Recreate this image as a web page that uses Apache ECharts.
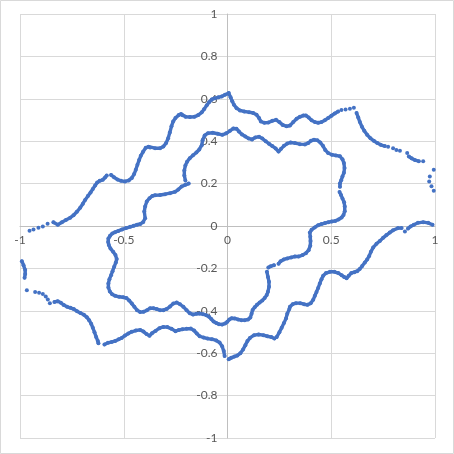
<!DOCTYPE html>
<html>
<head>
<meta charset="utf-8">
<script src="https://cdn.jsdelivr.net/npm/echarts@6/dist/echarts.min.js"></script>
<style>
html,body{margin:0;padding:0;background:#fff;}
#chart{width:454px;height:454px;}
</style>
</head>
<body>
<div id="chart"></div>
<script>
// Axis ticks
const xTicks = [-1, -0.5, 0, 0.5, 1];
const yTicks = [-1, -0.8, -0.6, -0.4, -0.2, 0, 0.2, 0.4, 0.6, 0.8, 1];

// Outer closed curve (null = visible gap)
const outerCurve = [
[-0.954,-0.022],null,[-0.935,-0.017],null,[-0.911,-0.008],null,[-0.890,-0.002],null,[-0.867,0.011],null,
[-0.839,0.018],[-0.818,0.006],[-0.798,0.018],[-0.779,0.028],[-0.758,0.039],[-0.742,0.051],[-0.726,0.067],[-0.710,0.086],[-0.697,0.105],[-0.686,0.123],[-0.673,0.141],[-0.660,0.158],[-0.649,0.175],[-0.638,0.191],[-0.628,0.205],[-0.616,0.213],[-0.601,0.218],[-0.590,0.229],[-0.582,0.238],null,
[-0.561,0.241],[-0.547,0.230],[-0.530,0.219],[-0.513,0.213],[-0.494,0.210],[-0.476,0.215],[-0.461,0.227],[-0.450,0.245],[-0.442,0.265],[-0.434,0.289],[-0.426,0.311],[-0.418,0.331],[-0.407,0.350],[-0.394,0.369],[-0.381,0.374],[-0.373,0.370],[-0.349,0.367],[-0.325,0.367],[-0.309,0.375],[-0.296,0.391],[-0.286,0.414],[-0.278,0.441],[-0.270,0.470],[-0.262,0.493],[-0.251,0.509],[-0.235,0.523],[-0.224,0.528],[-0.217,0.522],[-0.202,0.515],[-0.181,0.514],[-0.160,0.515],[-0.141,0.523],[-0.124,0.536],[-0.113,0.551],[-0.100,0.569],[-0.089,0.584],[-0.076,0.597],[-0.060,0.603],[-0.044,0.607],[-0.028,0.611],[-0.012,0.619],[0.006,0.627],[0.015,0.607],[0.023,0.588],[0.031,0.572],[0.044,0.556],[0.060,0.545],[0.081,0.540],[0.104,0.537],[0.124,0.533],[0.140,0.525],[0.152,0.509],[0.161,0.493],[0.177,0.487],[0.197,0.488],[0.216,0.496],[0.234,0.501],[0.250,0.490],[0.266,0.477],[0.285,0.470],[0.301,0.474],[0.317,0.490],[0.333,0.506],[0.349,0.515],[0.365,0.521],[0.378,0.521],[0.391,0.512],[0.405,0.499],[0.421,0.490],[0.437,0.487],[0.453,0.490],[0.469,0.499],[0.485,0.509],[0.501,0.520],[0.517,0.531],[0.533,0.540],null,
[0.549,0.547],null,[0.569,0.550],null,[0.590,0.553],null,[0.609,0.558],null,
[0.622,0.533],[0.630,0.512],[0.638,0.490],[0.648,0.468],[0.659,0.449],[0.673,0.430],[0.689,0.414],[0.705,0.402],[0.722,0.391],[0.738,0.383],[0.758,0.377],null,
[0.774,0.374],null,[0.798,0.367],null,[0.814,0.358],null,[0.831,0.355],null,[0.866,0.344],null,
[0.874,0.328],[0.887,0.319],[0.903,0.311],[0.922,0.306],null,[0.943,0.305],null,
[0.994,0.265],null,[0.975,0.234],null,[0.972,0.210],null,[0.983,0.187],null,[0.994,0.166],null,[1.002,0.150],null,
[1.004,-0.004],null,
[0.988,0.006],[0.967,0.015],[0.943,0.018],[0.918,0.015],[0.898,0.006],[0.882,-0.002],[0.870,-0.012],null,[0.855,-0.026],null,
[0.839,-0.010],[0.822,-0.010],[0.798,-0.020],[0.782,-0.031],[0.766,-0.043],[0.750,-0.056],[0.734,-0.071],[0.718,-0.084],[0.702,-0.101],[0.691,-0.122],[0.683,-0.141],[0.673,-0.158],[0.662,-0.172],[0.649,-0.189],[0.637,-0.203],[0.625,-0.213],[0.611,-0.218],[0.597,-0.222],[0.584,-0.235],[0.574,-0.246],[0.562,-0.240],[0.550,-0.232],[0.534,-0.222],[0.515,-0.216],[0.494,-0.216],[0.475,-0.222],[0.461,-0.235],[0.453,-0.251],[0.445,-0.271],[0.437,-0.292],[0.429,-0.311],[0.421,-0.329],[0.413,-0.348],[0.401,-0.364],[0.385,-0.372],[0.369,-0.369],[0.350,-0.364],[0.330,-0.364],[0.314,-0.369],[0.301,-0.381],[0.298,-0.392],[0.288,-0.414],[0.282,-0.436],[0.272,-0.458],[0.261,-0.480],[0.250,-0.501],[0.237,-0.524],null,
[0.226,-0.531],[0.211,-0.524],[0.192,-0.520],[0.173,-0.515],[0.150,-0.512],[0.128,-0.515],[0.108,-0.528],[0.096,-0.543],[0.086,-0.562],[0.075,-0.583],[0.062,-0.600],[0.047,-0.611],[0.033,-0.616],[0.018,-0.622],[0.006,-0.628],null,
[-0.014,-0.613],[-0.018,-0.590],[-0.026,-0.567],[-0.038,-0.550],[-0.054,-0.540],[-0.075,-0.534],[-0.096,-0.531],[-0.116,-0.526],[-0.134,-0.520],[-0.148,-0.507],[-0.161,-0.493],[-0.177,-0.484],[-0.197,-0.485],[-0.217,-0.487],[-0.235,-0.491],[-0.251,-0.496],[-0.270,-0.485],[-0.290,-0.477],[-0.309,-0.476],[-0.328,-0.482],[-0.347,-0.495],[-0.364,-0.506],[-0.376,-0.518],[-0.390,-0.510],[-0.405,-0.498],[-0.421,-0.490],[-0.442,-0.493],[-0.462,-0.499],[-0.478,-0.507],[-0.494,-0.517],[-0.510,-0.528],[-0.524,-0.534],[-0.542,-0.543],[-0.558,-0.547],[-0.576,-0.551],[-0.593,-0.559],null,
[-0.622,-0.553],[-0.625,-0.543],[-0.633,-0.523],[-0.641,-0.501],[-0.649,-0.480],[-0.657,-0.461],[-0.667,-0.444],[-0.678,-0.430],[-0.692,-0.419],[-0.709,-0.410],[-0.725,-0.402],[-0.741,-0.392],[-0.757,-0.386],[-0.773,-0.381],[-0.789,-0.373],[-0.803,-0.362],[-0.818,-0.355],[-0.834,-0.358],null,
[-0.856,-0.364],null,[-0.866,-0.347],null,[-0.876,-0.333],null,[-0.890,-0.321],null,[-0.908,-0.315],null,[-0.927,-0.311],null,[-0.967,-0.303],null,
[-0.978,-0.244],[-0.975,-0.227],[-0.975,-0.208],[-0.983,-0.185],[-0.991,-0.166]
];

// Inner closed curve (null = visible gap)
const innerCurve = [
[-0.203,0.215],[-0.208,0.238],[-0.208,0.262],[-0.203,0.285],[-0.195,0.303],[-0.182,0.320],[-0.166,0.334],[-0.150,0.347],[-0.136,0.361],[-0.124,0.381],[-0.120,0.405],[-0.110,0.427],[-0.094,0.438],[-0.071,0.440],[-0.047,0.435],[-0.025,0.430],[-0.006,0.437],[0.012,0.449],[0.028,0.460],[0.043,0.459],[0.055,0.446],[0.070,0.432],[0.086,0.422],[0.102,0.413],[0.118,0.408],[0.134,0.418],[0.152,0.421],[0.168,0.413],[0.184,0.400],[0.200,0.388],[0.216,0.377],[0.232,0.366],[0.246,0.351],[0.258,0.364],[0.272,0.378],[0.288,0.389],[0.304,0.394],[0.325,0.391],[0.349,0.386],[0.373,0.385],[0.389,0.391],[0.402,0.402],[0.417,0.407],[0.433,0.404],[0.447,0.394],[0.460,0.378],[0.471,0.359],[0.485,0.344],[0.503,0.336],[0.522,0.333],[0.542,0.329],[0.554,0.315],[0.561,0.297],[0.564,0.273],[0.561,0.251],[0.554,0.234],[0.548,0.216],[0.542,0.201],[0.542,0.185],null,
[0.540,0.160],[0.547,0.146],[0.554,0.130],[0.562,0.112],[0.565,0.092],[0.565,0.070],[0.559,0.052],[0.550,0.040],[0.535,0.031],[0.519,0.024],[0.502,0.021],[0.486,0.018],[0.470,0.014],[0.453,0.009],[0.437,0.004],[0.420,-0.007],[0.405,-0.018],[0.397,-0.031],[0.399,-0.051],[0.400,-0.071],[0.399,-0.093],[0.391,-0.114],[0.378,-0.128],[0.362,-0.137],[0.343,-0.144],[0.325,-0.144],[0.307,-0.148],[0.288,-0.153],[0.271,-0.158],[0.256,-0.166],[0.246,-0.178],null,
[0.224,-0.185],[0.208,-0.190],[0.197,-0.196],null,
[0.190,-0.216],[0.195,-0.240],[0.200,-0.263],[0.200,-0.287],[0.195,-0.310],[0.189,-0.326],[0.179,-0.340],[0.168,-0.351],[0.155,-0.361],[0.142,-0.372],[0.131,-0.383],[0.121,-0.396],[0.116,-0.414],[0.110,-0.432],[0.099,-0.441],[0.083,-0.444],[0.067,-0.444],[0.051,-0.441],[0.035,-0.436],[0.020,-0.435],[0.009,-0.441],[-0.001,-0.452],[-0.012,-0.460],[-0.026,-0.465],[-0.041,-0.463],[-0.054,-0.458],[-0.067,-0.451],[-0.078,-0.439],[-0.089,-0.428],[-0.102,-0.421],[-0.118,-0.416],[-0.134,-0.413],[-0.150,-0.414],[-0.166,-0.418],[-0.182,-0.411],[-0.197,-0.397],[-0.213,-0.381],[-0.229,-0.369],[-0.245,-0.361],[-0.261,-0.366],[-0.277,-0.380],[-0.293,-0.391],[-0.309,-0.397],[-0.325,-0.397],[-0.341,-0.392],[-0.357,-0.388],[-0.373,-0.388],[-0.388,-0.397],[-0.405,-0.405],[-0.421,-0.406],[-0.436,-0.397],[-0.449,-0.381],[-0.461,-0.366],[-0.474,-0.351],[-0.487,-0.340],[-0.503,-0.336],[-0.522,-0.334],[-0.542,-0.329],[-0.556,-0.322],[-0.567,-0.309],[-0.574,-0.290],[-0.574,-0.271],[-0.569,-0.251],[-0.561,-0.232],[-0.554,-0.213],[-0.546,-0.192],[-0.538,-0.172],[-0.534,-0.156],[-0.540,-0.137],[-0.551,-0.122],[-0.564,-0.106],[-0.572,-0.090],[-0.575,-0.075],[-0.574,-0.059],[-0.566,-0.046],[-0.555,-0.035],[-0.542,-0.029],[-0.526,-0.023],[-0.508,-0.016],[-0.489,-0.010],[-0.469,-0.004],[-0.452,0.001],[-0.436,0.006],[-0.420,0.010],[-0.407,0.018],[-0.397,0.037],[-0.401,0.068],[-0.397,0.092],[-0.389,0.116],[-0.376,0.131],[-0.362,0.142],[-0.349,0.145],[-0.325,0.146],[-0.301,0.150],[-0.277,0.155],[-0.253,0.161],[-0.237,0.172],[-0.221,0.186],[-0.203,0.194],[-0.187,0.200]
];

const BLUE = '#4472C4';
function toData(curve) {
  return curve.map(p => p === null ? ['-', '-'] : p);
}
function curveSeries(curve) {
  return {
    type: 'line',
    data: toData(curve),
    connectNulls: false,
    showSymbol: true,
    symbol: 'circle',
    symbolSize: 4,
    itemStyle: { color: BLUE },
    lineStyle: { color: BLUE, width: 3.4, cap: 'round', join: 'round' },
    silent: true,
    animation: false
  };
}

const W = 454, H = 454;
const G = { left: 20, right: 19, top: 14, bottom: 16 };
const plotW = W - G.left - G.right;
const plotH = H - G.top - G.bottom;

const chart = echarts.init(document.getElementById('chart'), null, { renderer: 'canvas' });
const labelFont = { color: '#595959', fontSize: 12, fontFamily: 'Lato, "Liberation Sans", sans-serif' };
const fmt = ticks => v => String(ticks.find(t => Math.abs(t - v) < 1e-9) ?? v);
chart.setOption({
  animation: false,
  backgroundColor: '#ffffff',
  grid: Object.assign({ containLabel: false, outerBoundsMode: 'none' }, G),
  xAxis: {
    type: 'value', min: xTicks[0], max: xTicks[xTicks.length - 1], interval: xTicks[1] - xTicks[0],
    position: 'bottom',
    offset: -plotH / 2,
    axisLine: { show: true, onZero: false, lineStyle: { color: '#bfbfbf', width: 1 } },
    axisTick: { show: false },
    splitLine: { show: true, lineStyle: { color: '#d9d9d9', width: 1 } },
    axisLabel: Object.assign({ margin: 8, formatter: fmt(xTicks) }, labelFont)
  },
  yAxis: {
    type: 'value', min: yTicks[0], max: yTicks[yTicks.length - 1], interval: 0.2,
    position: 'left',
    offset: -plotW / 2,
    axisLine: { show: true, onZero: false, lineStyle: { color: '#bfbfbf', width: 1 } },
    axisTick: { show: false },
    splitLine: { show: true, lineStyle: { color: '#d9d9d9', width: 1 } },
    axisLabel: Object.assign({ margin: 10, formatter: fmt(yTicks) }, labelFont)
  },
  graphic: [{
    type: 'rect', silent: true, z: -10,
    shape: { x: 0.5, y: 0.5, width: 453, height: 453 },
    style: { fill: 'none', stroke: '#d9d9d9', lineWidth: 1 }
  }],
  series: [curveSeries(outerCurve), curveSeries(innerCurve)]
});
</script>
</body>
</html>
